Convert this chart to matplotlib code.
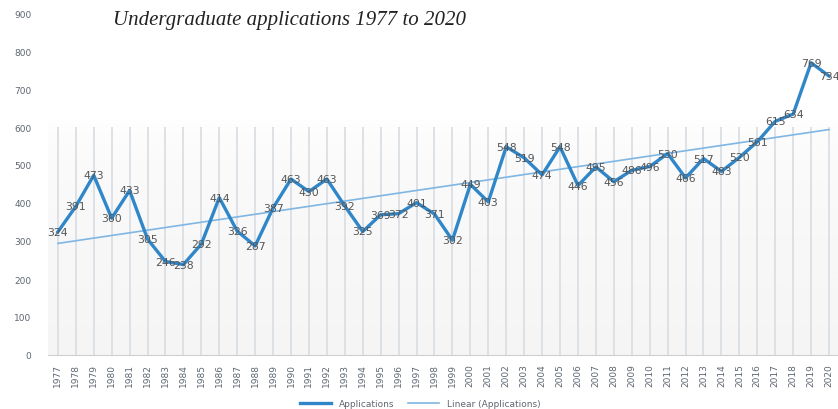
import numpy as np
import matplotlib
matplotlib.use('Agg')
from matplotlib import pyplot as plt

years = list(range(1977, 2021))
applications = [324, 391, 473, 360, 433, 305, 246, 238, 292, 414,
                326, 287, 387, 463, 430, 463, 392, 325, 369, 372,
                401, 371, 302, 449, 403, 548, 519, 474, 548, 446,
                495, 456, 486, 496, 530, 466, 517, 483, 520, 561,
                615, 634, 769, 734]
yticks = [0, 100, 200, 300, 400, 500, 600, 700, 800, 900]

x = np.arange(len(years))
slope, icept = np.polyfit(x, applications, 1)
trend = slope * x + icept

fig = plt.figure(figsize=(8.38, 4.10), dpi=100)
ax = fig.add_axes([48/838, 54/410, 790/838, 342/410])

# faint grey band in the lower part of the plot area, fading out at the top
grad = np.linspace(0, 1, 256).reshape(-1, 1) ** 0.5
ax.imshow(grad, extent=[-0.55, 43.5, 0, 620], aspect='auto', cmap='Greys',
          vmin=0, vmax=12, origin='upper', zorder=0)

ax.vlines(x, 0, 600, color='#d8dde3', lw=1.2, zorder=1)

ax.plot(x, trend, color='#7fb6e3', lw=1.2, zorder=2, label='Linear (Applications)')
ax.plot(x, applications, color='#2f87c9', lw=2.4, zorder=3, label='Applications')

for xi, v in zip(x, applications):
    ax.text(xi, v, str(v), ha='center', va='center', fontsize=7.8,
            color='#555555', zorder=4)

ax.set_xlim(-0.55, 43.5)
ax.set_ylim(0, 900)
ax.set_yticks(yticks)
ax.set_yticklabels([str(t) for t in yticks], fontsize=6.5, color='#5e6670')
ax.set_xticks(x)
ax.set_xticklabels([str(y) for y in years], rotation=90, fontsize=6.5, color='#5e6670')
ax.tick_params(length=0, pad=12, axis='y')
ax.tick_params(length=0, pad=6, axis='x')
for s in ['top', 'right', 'left']:
    ax.spines[s].set_visible(False)
ax.spines['bottom'].set_color('#d0d0d0')

fig.text(113/838, 1 - 20/410, 'Undergraduate applications 1977 to 2020',
         family='Liberation Serif', style='italic', fontsize=15, color='#222222',
         va='center', ha='left')

h, l = ax.get_legend_handles_labels()
fig.legend(h[::-1], l[::-1], loc='center', bbox_to_anchor=(420/838, 1 - 405/410),
           ncol=2, frameon=False, fontsize=6.5, handlelength=3.5,
           labelcolor='#5e6670', columnspacing=1.5)

fig.savefig('out.png', dpi=100)
